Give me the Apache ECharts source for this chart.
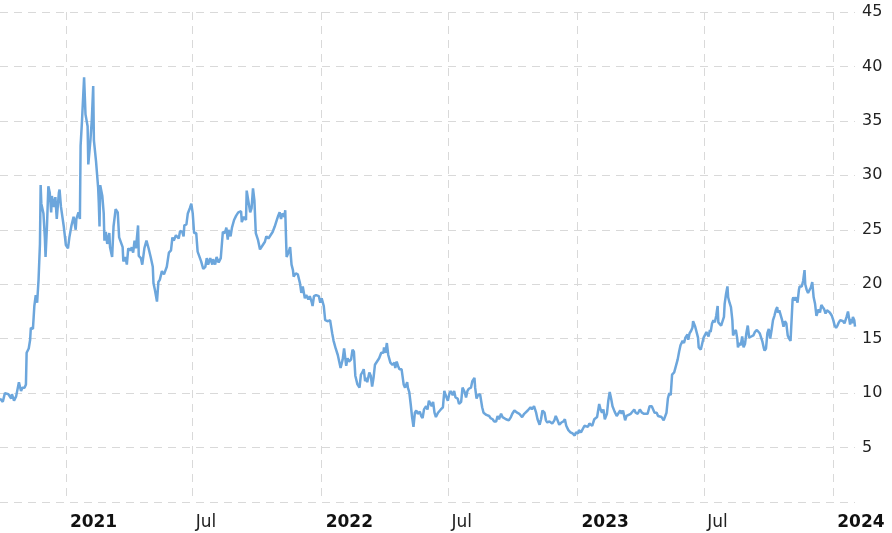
<!DOCTYPE html>
<html>
<head>
<meta charset="utf-8">
<script src="https://cdn.jsdelivr.net/npm/echarts@6/dist/echarts.min.js"></script>
<style>
  html, body { margin: 0; padding: 0; background: #fff; }
  #trendChart { width: 892px; height: 533px; }
</style>
</head>
<body>
<div id="trendChart"></div>
<script type="text/javascript">
  // values, [date, value]
  const points2020 = [
    ['2020-09-29', 9.5], ['2020-10-03', 9.2], ['2020-10-06', 10.0], ['2020-10-11', 9.9],
    ['2020-10-15', 9.5], ['2020-10-16', 9.9], ['2020-10-19', 9.3], ['2020-10-22', 9.7],
    ['2020-10-26', 11.0], ['2020-10-29', 10.2], ['2020-10-31', 10.5], ['2020-11-03', 10.5],
    ['2020-11-05', 10.8], ['2020-11-06', 13.7], ['2020-11-09', 14.1], ['2020-11-11', 14.9],
    ['2020-11-12', 16.0], ['2020-11-15', 15.9], ['2020-11-17', 18.0], ['2020-11-19', 19.0],
    ['2020-11-21', 18.3], ['2020-11-23', 20.4], ['2020-11-25', 23.7], ['2020-11-26', 29.1],
    ['2020-11-27', 27.4], ['2020-11-30', 26.5], ['2020-12-02', 24.3], ['2020-12-03', 22.5],
    ['2020-12-05', 25.3], ['2020-12-07', 29.0], ['2020-12-09', 28.4], ['2020-12-11', 26.6],
    ['2020-12-12', 28.1], ['2020-12-15', 27.1], ['2020-12-17', 28.0], ['2020-12-19', 26.0],
    ['2020-12-22', 28.4], ['2020-12-23', 28.7], ['2020-12-25', 27.1], ['2020-12-29', 25.3]
  ];
  const points2021 = [
    ['2021-01-01', 23.6], ['2021-01-04', 23.3], ['2021-01-06', 24.3], ['2021-01-09', 25.4],
    ['2021-01-12', 26.2], ['2021-01-15', 25.0], ['2021-01-16', 26.0], ['2021-01-19', 26.6],
    ['2021-01-21', 26.0], ['2021-01-22', 32.7], ['2021-01-24', 35.0], ['2021-01-27', 39.0],
    ['2021-01-29', 35.6], ['2021-02-01', 34.5], ['2021-02-02', 31.0], ['2021-02-05', 33.2],
    ['2021-02-07', 35.1], ['2021-02-09', 38.2], ['2021-02-10', 33.2], ['2021-02-13', 31.3],
    ['2021-02-16', 28.9], ['2021-02-17', 27.4], ['2021-02-18', 25.3], ['2021-02-19', 29.1],
    ['2021-02-22', 28.1], ['2021-02-24', 26.5], ['2021-02-25', 24.0], ['2021-02-27', 24.8],
    ['2021-03-01', 23.7], ['2021-03-04', 24.7], ['2021-03-05', 23.4], ['2021-03-08', 22.5],
    ['2021-03-10', 25.3], ['2021-03-13', 26.9], ['2021-03-16', 26.6], ['2021-03-18', 24.3],
    ['2021-03-20', 24.2], ['2021-03-23', 23.4], ['2021-03-24', 22.1], ['2021-03-27', 22.5],
    ['2021-03-29', 21.8], ['2021-03-31', 23.3], ['2021-04-03', 23.1], ['2021-04-05', 23.4],
    ['2021-04-07', 22.9], ['2021-04-09', 24.0], ['2021-04-11', 23.3], ['2021-04-14', 25.4],
    ['2021-04-15', 22.6], ['2021-04-18', 22.4], ['2021-04-20', 21.8], ['2021-04-23', 23.3],
    ['2021-04-26', 24.0], ['2021-04-29', 23.3], ['2021-05-02', 22.5], ['2021-05-05', 21.6],
    ['2021-05-06', 20.1], ['2021-05-08', 19.5], ['2021-05-11', 18.4], ['2021-05-13', 20.2],
    ['2021-05-15', 20.4], ['2021-05-18', 21.2], ['2021-05-21', 20.9], ['2021-05-25', 21.6],
    ['2021-05-28', 22.9], ['2021-05-31', 23.1], ['2021-06-02', 24.3], ['2021-06-04', 24.0],
    ['2021-06-07', 24.5], ['2021-06-11', 24.2], ['2021-06-13', 24.9], ['2021-06-16', 24.8],
    ['2021-06-18', 24.4], ['2021-06-19', 25.4], ['2021-06-22', 25.5], ['2021-06-24', 26.5],
    ['2021-06-27', 27.0], ['2021-06-29', 27.4], ['2021-07-01', 26.5], ['2021-07-03', 24.7],
    ['2021-07-06', 24.7], ['2021-07-08', 23.0], ['2021-07-10', 23.0], ['2021-07-13', 22.1],
    ['2021-07-16', 21.4], ['2021-07-19', 21.6], ['2021-07-21', 22.4], ['2021-07-23', 21.8],
    ['2021-07-26', 22.4], ['2021-07-29', 21.8], ['2021-07-30', 22.3], ['2021-08-02', 21.8],
    ['2021-08-04', 22.5], ['2021-08-07', 22.0], ['2021-08-10', 22.4], ['2021-08-12', 22.4],
    ['2021-08-13', 24.8], ['2021-08-16', 24.7], ['2021-08-18', 25.2], ['2021-08-20', 24.1],
    ['2021-08-21', 25.0], ['2021-08-24', 24.4], ['2021-08-26', 25.2], ['2021-08-29', 25.9],
    ['2021-09-01', 26.3], ['2021-09-04', 26.6], ['2021-09-08', 26.7], ['2021-09-09', 25.7],
    ['2021-09-12', 26.2], ['2021-09-15', 25.9], ['2021-09-16', 28.6], ['2021-09-19', 27.4],
    ['2021-09-21', 26.6], ['2021-09-23', 27.0], ['2021-09-25', 28.8], ['2021-09-27', 27.7],
    ['2021-09-29', 24.7], ['2021-10-02', 24.1], ['2021-10-05', 23.2], ['2021-10-09', 23.6],
    ['2021-10-12', 23.9], ['2021-10-14', 24.4], ['2021-10-17', 24.2], ['2021-10-20', 24.5],
    ['2021-10-23', 24.8], ['2021-10-26', 25.3], ['2021-10-28', 25.7], ['2021-10-31', 26.3],
    ['2021-11-02', 26.6], ['2021-11-04', 26.0], ['2021-11-06', 26.5], ['2021-11-09', 26.2],
    ['2021-11-10', 26.8], ['2021-11-11', 24.5], ['2021-11-12', 22.5], ['2021-11-15', 23.0],
    ['2021-11-17', 23.4], ['2021-11-19', 21.8], ['2021-11-21', 21.3], ['2021-11-22', 20.7],
    ['2021-11-25', 21.0], ['2021-11-28', 20.9], ['2021-12-01', 20.1], ['2021-12-03', 19.2],
    ['2021-12-05', 19.8], ['2021-12-08', 18.7], ['2021-12-10', 19.0], ['2021-12-13', 18.6],
    ['2021-12-15', 18.9], ['2021-12-18', 18.3], ['2021-12-19', 18.0], ['2021-12-21', 18.9],
    ['2021-12-24', 19.0], ['2021-12-28', 18.9], ['2021-12-30', 18.3]
  ];
  const points2022 = [
    ['2022-01-01', 18.7], ['2022-01-04', 18.0], ['2022-01-06', 16.7], ['2022-01-10', 16.6],
    ['2022-01-13', 16.7], ['2022-01-16', 15.5], ['2022-01-18', 14.8], ['2022-01-21', 14.1],
    ['2022-01-24', 13.5], ['2022-01-26', 12.9], ['2022-01-28', 12.3], ['2022-01-31', 13.1],
    ['2022-02-02', 14.1], ['2022-02-05', 12.5], ['2022-02-07', 13.2], ['2022-02-09', 12.9],
    ['2022-02-12', 13.1], ['2022-02-14', 14.0], ['2022-02-16', 13.8], ['2022-02-18', 11.6],
    ['2022-02-21', 10.8], ['2022-02-24', 10.5], ['2022-02-26', 11.7], ['2022-02-28', 11.9],
    ['2022-03-02', 12.2], ['2022-03-04', 11.1], ['2022-03-06', 11.4], ['2022-03-07', 11.0],
    ['2022-03-10', 11.9], ['2022-03-12', 11.6], ['2022-03-14', 10.6], ['2022-03-16', 11.4],
    ['2022-03-18', 12.6], ['2022-03-21', 12.9], ['2022-03-24', 13.2], ['2022-03-26', 13.1],
    ['2022-03-27', 13.7], ['2022-03-30', 13.7], ['2022-03-31', 14.2], ['2022-04-02', 13.7],
    ['2022-04-04', 14.6], ['2022-04-06', 13.5], ['2022-04-09', 12.8], ['2022-04-12', 12.6],
    ['2022-04-15', 12.8], ['2022-04-16', 12.3], ['2022-04-18', 12.9], ['2022-04-20', 12.5],
    ['2022-04-22', 12.2], ['2022-04-25', 12.2], ['2022-04-28', 10.8], ['2022-04-30', 10.5],
    ['2022-05-03', 11.0], ['2022-05-04', 10.5], ['2022-05-06', 10.1], ['2022-05-08', 9.0],
    ['2022-05-10', 7.8], ['2022-05-12', 6.9], ['2022-05-14', 8.2], ['2022-05-16', 8.4],
    ['2022-05-18', 8.1], ['2022-05-21', 8.3], ['2022-05-23', 7.9], ['2022-05-25', 7.7],
    ['2022-05-27', 8.5], ['2022-05-30', 8.8], ['2022-06-01', 8.5], ['2022-06-03', 9.3],
    ['2022-06-05', 9.2], ['2022-06-07', 8.8], ['2022-06-09', 9.2], ['2022-06-11', 8.2],
    ['2022-06-13', 7.8], ['2022-06-16', 8.2], ['2022-06-18', 8.1], ['2022-06-20', 8.5],
    ['2022-06-23', 8.7], ['2022-06-25', 10.2], ['2022-06-27', 9.8], ['2022-06-30', 9.3],
    ['2022-07-02', 9.9], ['2022-07-04', 10.2], ['2022-07-07', 9.8], ['2022-07-09', 10.2],
    ['2022-07-11', 9.6], ['2022-07-14', 9.5], ['2022-07-16', 9.0], ['2022-07-19', 9.2],
    ['2022-07-21', 10.5], ['2022-07-24', 10.1], ['2022-07-26', 9.6], ['2022-07-28', 10.2],
    ['2022-07-30', 10.4], ['2022-08-02', 10.5], ['2022-08-04', 11.1], ['2022-08-07', 11.4],
    ['2022-08-08', 10.5], ['2022-08-10', 9.5], ['2022-08-12', 9.8], ['2022-08-15', 9.9],
    ['2022-08-16', 9.5], ['2022-08-18', 8.7], ['2022-08-20', 8.2], ['2022-08-22', 8.2],
    ['2022-08-24', 8.0], ['2022-08-26', 8.1], ['2022-08-28', 7.9], ['2022-08-30', 7.7],
    ['2022-09-02', 7.6], ['2022-09-04', 7.4], ['2022-09-07', 7.4], ['2022-09-09', 7.9],
    ['2022-09-11', 7.6], ['2022-09-14', 8.1], ['2022-09-16', 7.8], ['2022-09-18', 7.9],
    ['2022-09-21', 7.6], ['2022-09-23', 7.6], ['2022-09-25', 7.5], ['2022-09-28', 7.8],
    ['2022-09-30', 8.1], ['2022-10-03', 8.4], ['2022-10-05', 8.5], ['2022-10-07', 8.2],
    ['2022-10-10', 8.1], ['2022-10-12', 8.1], ['2022-10-14', 7.8], ['2022-10-17', 8.1],
    ['2022-10-19', 8.2], ['2022-10-22', 8.4], ['2022-10-24', 8.5], ['2022-10-26', 8.7],
    ['2022-10-28', 8.5], ['2022-10-31', 8.8], ['2022-11-03', 8.2], ['2022-11-05', 7.6],
    ['2022-11-08', 7.1], ['2022-11-10', 7.6], ['2022-11-12', 8.4], ['2022-11-15', 8.2],
    ['2022-11-17', 7.5], ['2022-11-19', 7.3], ['2022-11-22', 7.4], ['2022-11-24', 7.3],
    ['2022-11-26', 7.2], ['2022-11-29', 7.5], ['2022-12-01', 7.9], ['2022-12-03', 7.6],
    ['2022-12-06', 7.1], ['2022-12-09', 7.3], ['2022-12-12', 7.4], ['2022-12-14', 7.6],
    ['2022-12-16', 7.0], ['2022-12-19', 6.6], ['2022-12-22', 6.4], ['2022-12-25', 6.3],
    ['2022-12-28', 6.1], ['2022-12-30', 6.4]
  ];
  const points2023 = [
    ['2023-01-02', 6.3], ['2023-01-03', 6.6], ['2023-01-06', 6.4], ['2023-01-08', 6.5],
    ['2023-01-11', 7.0], ['2023-01-13', 7.1], ['2023-01-16', 6.9], ['2023-01-18', 7.2],
    ['2023-01-20', 7.3], ['2023-01-22', 7.0], ['2023-01-25', 7.6], ['2023-01-27', 7.5],
    ['2023-01-29', 7.8], ['2023-02-01', 9.0], ['2023-02-03', 8.5], ['2023-02-05', 8.2],
    ['2023-02-07', 8.5], ['2023-02-09', 7.6], ['2023-02-12', 8.1], ['2023-02-14', 9.3],
    ['2023-02-16', 10.1], ['2023-02-18', 9.5], ['2023-02-20', 8.8], ['2023-02-23', 8.3],
    ['2023-02-26', 7.9], ['2023-02-28', 8.1], ['2023-03-03', 8.4], ['2023-03-05', 8.1],
    ['2023-03-07', 8.4], ['2023-03-10', 7.5], ['2023-03-12', 7.9], ['2023-03-15', 8.0],
    ['2023-03-18', 8.1], ['2023-03-20', 8.2], ['2023-03-23', 8.5], ['2023-03-25', 8.2],
    ['2023-03-28', 8.1], ['2023-03-31', 8.5], ['2023-04-03', 8.2], ['2023-04-06', 8.1],
    ['2023-04-08', 8.2], ['2023-04-11', 8.1], ['2023-04-14', 8.8], ['2023-04-17', 8.8],
    ['2023-04-19', 8.8], ['2023-04-21', 8.2], ['2023-04-24', 8.2], ['2023-04-26', 7.9],
    ['2023-04-28', 7.9], ['2023-05-01', 7.8], ['2023-05-04', 7.5], ['2023-05-06', 7.6],
    ['2023-05-08', 8.2], ['2023-05-10', 9.5], ['2023-05-12', 10.0], ['2023-05-14', 9.8],
    ['2023-05-16', 11.7], ['2023-05-19', 11.9], ['2023-05-21', 12.0], ['2023-05-24', 13.1],
    ['2023-05-26', 13.8], ['2023-05-28', 14.4], ['2023-05-31', 14.8], ['2023-06-02', 14.6],
    ['2023-06-04', 15.1], ['2023-06-07', 15.4], ['2023-06-08', 14.9], ['2023-06-10', 15.5],
    ['2023-06-12', 15.7], ['2023-06-14', 16.0], ['2023-06-15', 16.6], ['2023-06-18', 16.1],
    ['2023-06-20', 16.0], ['2023-06-22', 15.1], ['2023-06-23', 14.2], ['2023-06-26', 14.0],
    ['2023-06-30', 15.1], ['2023-07-02', 15.2], ['2023-07-04', 15.6], ['2023-07-07', 15.2],
    ['2023-07-09', 15.8], ['2023-07-10', 15.6], ['2023-07-12', 16.4], ['2023-07-14', 16.7],
    ['2023-07-16', 16.5], ['2023-07-18', 17.1], ['2023-07-20', 18.0], ['2023-07-21', 16.5],
    ['2023-07-23', 16.4], ['2023-07-25', 16.2], ['2023-07-27', 16.1], ['2023-07-29', 17.0],
    ['2023-07-30', 18.2], ['2023-08-01', 19.1], ['2023-08-03', 19.8], ['2023-08-04', 18.8],
    ['2023-08-06', 18.3], ['2023-08-08', 17.9], ['2023-08-10', 16.7], ['2023-08-11', 15.3],
    ['2023-08-13', 15.6], ['2023-08-15', 15.8], ['2023-08-17', 15.0], ['2023-08-18', 14.2],
    ['2023-08-20', 14.6], ['2023-08-22', 14.4], ['2023-08-24', 15.2], ['2023-08-26', 14.2],
    ['2023-08-28', 14.5], ['2023-08-30', 15.5], ['2023-09-01', 16.2], ['2023-09-03', 15.1],
    ['2023-09-05', 15.1], ['2023-09-06', 15.2], ['2023-09-09', 15.3], ['2023-09-11', 15.6],
    ['2023-09-14', 15.8], ['2023-09-16', 15.8], ['2023-09-18', 15.5], ['2023-09-20', 15.6],
    ['2023-09-22', 14.7], ['2023-09-24', 14.1], ['2023-09-25', 13.9], ['2023-09-27', 14.1],
    ['2023-09-29', 15.5], ['2023-10-01', 15.9], ['2023-10-03', 15.0], ['2023-10-05', 15.8],
    ['2023-10-07', 16.7], ['2023-10-09', 17.1], ['2023-10-11', 17.6], ['2023-10-13', 17.9],
    ['2023-10-14', 17.4], ['2023-10-16', 17.6], ['2023-10-18', 17.7], ['2023-10-20', 16.7],
    ['2023-10-22', 16.1], ['2023-10-24', 16.6], ['2023-10-26', 16.4], ['2023-10-28', 15.3],
    ['2023-10-30', 15.0], ['2023-11-01', 14.8], ['2023-11-02', 14.8], ['2023-11-04', 18.6],
    ['2023-11-05', 18.8], ['2023-11-07', 18.5], ['2023-11-09', 18.8], ['2023-11-11', 18.3],
    ['2023-11-13', 19.5], ['2023-11-14', 19.8], ['2023-11-17', 19.8], ['2023-11-19', 20.3],
    ['2023-11-21', 21.3], ['2023-11-22', 20.0], ['2023-11-24', 19.5], ['2023-11-26', 19.2],
    ['2023-11-28', 19.1], ['2023-11-30', 19.7], ['2023-12-02', 20.2], ['2023-12-04', 18.8],
    ['2023-12-06', 18.2], ['2023-12-08', 17.1], ['2023-12-10', 17.2], ['2023-12-11', 17.7],
    ['2023-12-13', 17.4], ['2023-12-15', 18.1], ['2023-12-17', 17.9], ['2023-12-19', 17.7],
    ['2023-12-21', 17.3], ['2023-12-23', 17.6], ['2023-12-25', 17.6], ['2023-12-27', 17.4],
    ['2023-12-29', 17.5], ['2023-12-30', 17.1]
  ];
  const points2024 = [
    ['2024-01-01', 16.7], ['2024-01-03', 16.2], ['2024-01-05', 16.0], ['2024-01-07', 16.2],
    ['2024-01-09', 16.5], ['2024-01-11', 16.7], ['2024-01-13', 16.7], ['2024-01-15', 16.6],
    ['2024-01-17', 16.4], ['2024-01-18', 16.5], ['2024-01-20', 17.0], ['2024-01-22', 17.5],
    ['2024-01-24', 16.7], ['2024-01-25', 16.3], ['2024-01-27', 16.8], ['2024-01-28', 16.4],
    ['2024-01-29', 17.0], ['2024-01-31', 16.7], ['2024-02-01', 16.1]
  ];

  const yTicks = [0, 5, 10, 15, 20, 25, 30, 35, 40, 45];
  const midYearLabel = 'Jul';

  const seriesData = [].concat(points2020, points2021, points2022, points2023, points2024);

  let myChart = echarts.init(document.getElementById('trendChart'));
  var option = {
    animation: false,
    grid: {
      left: 0,
      right: 37,
      top: 12,
      bottom: 31
    },
    xAxis: {
      type: 'time',
      min: '2020-09-29',
      max: '2024-02-01',
      splitNumber: 6,
      axisLine: { show: false },
      axisTick: { show: false },
      splitLine: {
        show: true,
        showMinLine: false,
        showMaxLine: false,
        lineStyle: { color: '#d9d9d9', type: [8, 6], width: 1 }
      },
      axisLabel: {
        margin: 12,
        align: 'left',
        hideOverlap: false,
        showMinLabel: false,
        showMaxLabel: false,
        formatter: function (value) {
          let d = new Date(value);
          if (d.getMonth() === 0) {
            return '{y|' + d.getFullYear() + '}';
          }
          return '{m|' + midYearLabel + '}';
        },
        rich: {
          y: { fontFamily: 'DejaVu Sans', fontSize: 17, fontWeight: 'bold', color: '#111', padding: [0, 0, 0, 4] },
          m: { fontFamily: 'DejaVu Sans', fontSize: 17, color: '#222', padding: [0, 0, 0, 3] }
        }
      }
    },
    yAxis: {
      type: 'value',
      position: 'right',
      min: yTicks[0],
      max: yTicks[yTicks.length - 1],
      interval: 5,
      axisLine: { show: false },
      axisTick: { show: false },
      splitLine: {
        show: true,
        lineStyle: { color: '#d9d9d9', type: [8, 6], width: 1 }
      },
      axisLabel: {
        margin: 7,
        fontFamily: 'DejaVu Sans',
        fontSize: 16,
        color: '#222',
        showMinLabel: false
      }
    },
    series: [
      {
        type: 'line',
        data: seriesData,
        showSymbol: false,
        lineStyle: { color: '#6ca6dc', width: 2.5 },
        itemStyle: { color: '#6ca6dc' }
      }
    ]
  };
  myChart.setOption(option);
</script>
</body>
</html>
